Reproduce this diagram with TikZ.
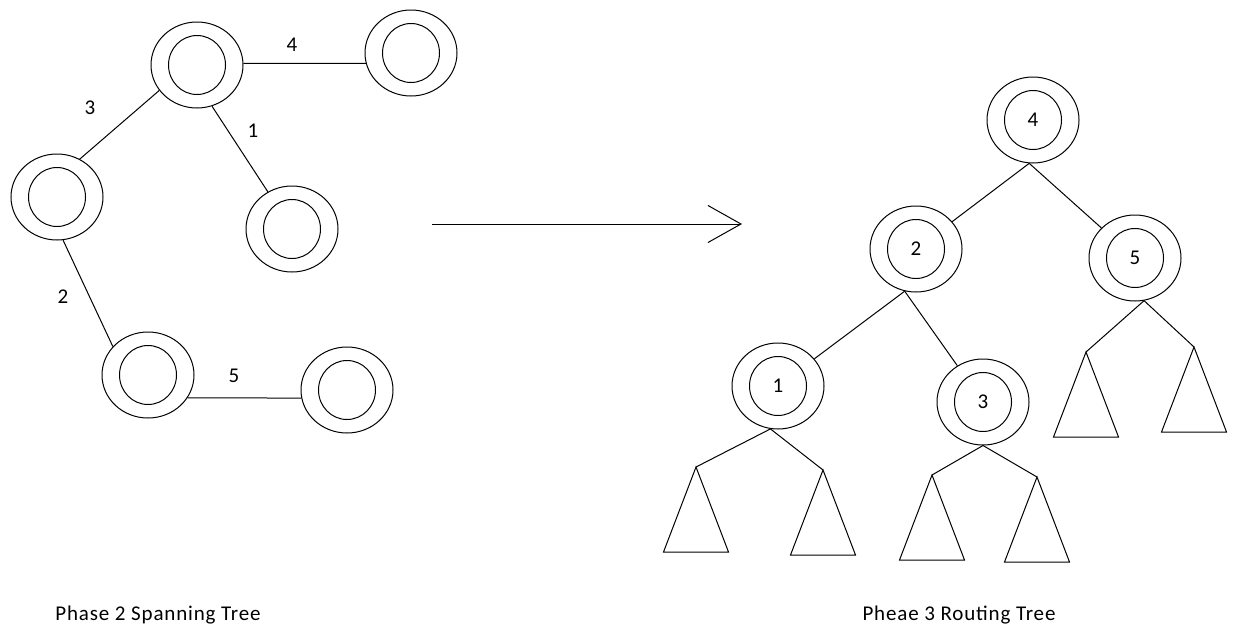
\documentclass[tikz,border=0pt]{standalone}
\usepackage{fontspec}
\setmainfont{Carlito}
\usetikzlibrary{shapes.geometric,arrows.meta}
\tikzset{
  dnode/.style={ellipse, draw, line width=1pt, minimum width=92pt, minimum height=86pt, inner sep=0pt,
    font=\fontsize{21}{23}\selectfont,
    path picture={\draw[line width=1pt] (path picture bounding box.center) ellipse [x radius=28.5pt, y radius=29.5pt];}},
  lbl/.style={font=\fontsize{21}{23}\selectfont, inner sep=0pt},
  captxt/.style={font=\fontsize{21}{23}\selectfont\addfontfeature{LetterSpace=4}, inner sep=0pt, anchor=base},
  conn/.style={line width=1pt},
  tri/.style={line width=1pt, line join=miter}
}
\newcommand{\subtri}[1]{\draw[tri] (#1) -- ++(-32.5,85) -- ++(65,0) -- cycle;}
\begin{document}
\begin{tikzpicture}[x=1pt,y=-1pt]
\useasboundingbox (0,0) rectangle (1233,624);
\fill[white] (0,0) rectangle (1233,624);
% ---- left: spanning tree ----
\node[dnode] (A) at (197,65) {};
\node[dnode] (B) at (411,53) {};
\node[dnode] (C) at (57,197) {};
\node[dnode] (D) at (292,229) {};
\node[dnode] (E) at (148,375) {};
\node[dnode] (F) at (347,390) {};
\draw[conn] (A.2) -- (B.193);
\draw[conn] (A.214) -- (C.59);
\draw[conn] (A.-70) -- (D.123);
\draw[conn] (C.-82) -- (E.141);
\draw[conn] (E.-30) -- (F.190);
\node[lbl] (l4) at (292,45) {4};
\node[lbl] (l3) at (90,108) {3};
\node[lbl] (l1) at (253,131) {1};
\node[lbl] (l2) at (63,297) {2};
\node[lbl] (l5) at (234,376) {5};
% ---- arrow ----
\coordinate (arrS) at (432,224);
\coordinate (arrE) at (742,224);
\draw[conn,-{Straight Barb[length=33pt,width=37pt,line width=1pt]}] (arrS) -- (arrE);
% ---- right: routing tree ----
\node[dnode] (N4) at (1033,120) {4};
\node[dnode] (N2) at (916,249) {2};
\node[dnode] (N5) at (1135,258) {5};
\node[dnode] (N1) at (778,386) {1};
\node[dnode] (N3) at (983,402) {3};
\draw[conn] (N4.-95) -- (N2);
\draw[conn] (N4.-95) -- (N5);
\draw[conn] (N2.-105) -- (N1);
\draw[conn] (N2.-105) -- (N3);
\coordinate (t1a) at (696,467);
\coordinate (t1b) at (823,470);
\coordinate (t3a) at (932,475);
\coordinate (t3b) at (1037,477);
\coordinate (t5a) at (1086,352);
\coordinate (t5b) at (1194,347);
\draw[conn] (N1.-100) -- (t1a);
\draw[conn] (N1.-100) -- (t1b);
\draw[conn] (N3.south) -- (t3a);
\draw[conn] (N3.south) -- (t3b);
\draw[conn] (N5.-78) -- (t5a);
\draw[conn] (N5.-78) -- (t5b);
\subtri{t1a}\subtri{t1b}\subtri{t3a}\subtri{t3b}\subtri{t5a}\subtri{t5b}
% ---- captions ----
\node[captxt] (cap1) at (158,620) {Phase 2 Spanning Tree};
\node[captxt] (cap2) at (959,620) {Pheae 3 Routing Tree};
\end{tikzpicture}
\end{document}
